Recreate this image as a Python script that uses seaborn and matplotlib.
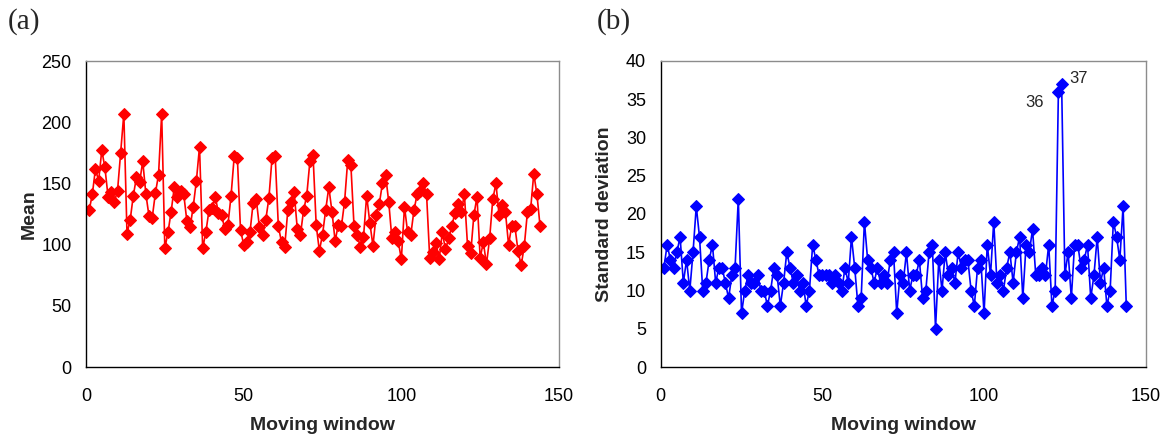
import numpy as np
import pandas as pd
import matplotlib
matplotlib.use("Agg")
import matplotlib.pyplot as plt
import seaborn as sns

# ---------------- data ----------------
mean_values = [
    128, 141, 162, 152, 177, 163, 139, 143, 135, 144,
    175, 207, 109, 120, 140, 155, 151, 168, 141, 123,
    122, 142, 157, 207, 97, 110, 127, 147, 139, 144,
    141, 119, 114, 131, 152, 180, 97, 110, 128, 130,
    139, 126, 124, 113, 116, 140, 172, 171, 112, 100,
    102, 110, 134, 137, 114, 108, 120, 138, 171, 172,
    115, 102, 98, 128, 135, 143, 113, 108, 128, 140,
    168, 173, 116, 95, 108, 128, 147, 127, 103, 116,
    115, 135, 169, 165, 115, 108, 98, 106, 140, 118,
    99, 124, 133, 150, 157, 135, 105, 110, 103, 88,
    131, 110, 108, 128, 141, 144, 150, 141, 89, 94,
    101, 88, 110, 96, 105, 115, 126, 133, 127, 141,
    99, 93, 124, 139, 89, 102, 84, 105, 137, 150,
    124, 132, 127, 100, 115, 115, 95, 83, 99, 127,
    129, 158, 141, 115,
]
sd_values = [
    13, 16, 14, 13, 15, 17, 11, 14, 10, 15,
    21, 17, 10, 11, 14, 16, 11, 13, 13, 11,
    9, 12, 13, 22, 7, 10, 12, 11, 11, 12,
    10, 10, 8, 10, 13, 12, 8, 11, 15, 13,
    11, 12, 10, 11, 8, 10, 16, 14, 12, 12,
    12, 12, 11, 12, 11, 10, 13, 11, 17, 13,
    8, 9, 19, 14, 13, 11, 13, 11, 12, 11,
    14, 15, 7, 12, 11, 15, 10, 12, 12, 14,
    9, 10, 15, 16, 5, 14, 10, 15, 12, 13,
    11, 15, 13, 14, 14, 10, 8, 13, 14, 7,
    16, 12, 19, 11, 12, 10, 13, 15, 11, 15,
    17, 9, 16, 15, 18, 12, 12, 13, 12, 16,
    8, 10, 36, 37, 12, 15, 9, 16, 16, 13,
    14, 16, 9, 12, 17, 11, 13, 8, 10, 19,
    17, 14, 21, 8,
]
window_mean = np.arange(1, len(mean_values) + 1)
window_sd = np.arange(1, len(sd_values) + 1)

mean_ticks = [0, 50, 100, 150, 200, 250]
sd_ticks = [0, 5, 10, 15, 20, 25, 30, 35, 40]
x_ticks = [0, 50, 100, 150]
labelled_points = [(123, "36"), (124, "37")]

df_mean = pd.DataFrame({"window": window_mean, "value": mean_values})
df_sd = pd.DataFrame({"window": window_sd, "value": sd_values})

# ---------------- style ----------------
sns.set_theme(style="white")
plt.rcParams["font.family"] = ["Liberation Sans", "DejaVu Sans"]

W, H = 1171, 448
fig = plt.figure(figsize=(W / 100, H / 100), dpi=100)

top_px, bot_px = 61, 367
ax1 = fig.add_axes([86 / W, (H - bot_px) / H, (559 - 86) / W, (bot_px - top_px) / H])
ax2 = fig.add_axes([660.7 / W, (H - bot_px) / H, (1145.7 - 660.7) / W, (bot_px - top_px) / H])


def style_axis(ax, yticks, ylabel, ylabel_x):
    ax.set_xlim(0, 150)
    ax.set_ylim(yticks[0], yticks[-1])
    ax.set_xticks(x_ticks)
    ax.set_yticks(yticks)
    ax.set_xlabel("Moving window", fontsize=14, fontweight="bold", labelpad=9)
    ax.set_ylabel(ylabel, fontsize=14, fontweight="bold")
    ax.yaxis.set_label_coords(ylabel_x, 0.5)
    for side in ["left", "bottom"]:
        ax.spines[side].set_color("#000000")
        ax.spines[side].set_linewidth(1.0)
    for side in ["top", "right"]:
        ax.spines[side].set_color("#8c8c8c")
        ax.spines[side].set_linewidth(1.0)
    ax.tick_params(axis="both", labelsize=13, colors="#000000", width=1.0)
    ax.tick_params(axis="x", direction="inout", length=8, pad=11)
    ax.tick_params(axis="y", direction="out", length=4.5, pad=6)
    ax.grid(False)


sns.lineplot(data=df_mean, x="window", y="value", ax=ax1, color="#ff0000",
             marker="D", markersize=6, markeredgecolor="#ff0000",
             markerfacecolor="#ff0000", linewidth=1.2)
style_axis(ax1, mean_ticks, "Mean", (38 - 86) / 473)

sns.lineplot(data=df_sd, x="window", y="value", ax=ax2, color="#0000ff",
             marker="D", markersize=6, markeredgecolor="#0000ff",
             markerfacecolor="#0000ff", linewidth=1.2)
style_axis(ax2, sd_ticks, "Standard deviation", (613 - 660.7) / 485)

# data labels on the spike
idx36 = labelled_points[0][0] - 1
idx37 = labelled_points[1][0] - 1
ax2.annotate(labelled_points[0][1], (window_sd[idx36], sd_values[idx36]),
             xytext=(-17, -8), textcoords="offset points", ha="center", va="center",
             fontsize=12)
ax2.annotate(labelled_points[1][1], (window_sd[idx37], sd_values[idx37]),
             xytext=(12, 4), textcoords="offset points", ha="center", va="center",
             fontsize=12)

fig.text(8 / W, 1 - 8 / H, "(a)", fontsize=21, family=["Liberation Serif", "DejaVu Serif"],
         ha="left", va="top")
fig.text(597 / W, 1 - 8 / H, "(b)", fontsize=21, family=["Liberation Serif", "DejaVu Serif"],
         ha="left", va="top")

fig.savefig("out.png", dpi=100)
